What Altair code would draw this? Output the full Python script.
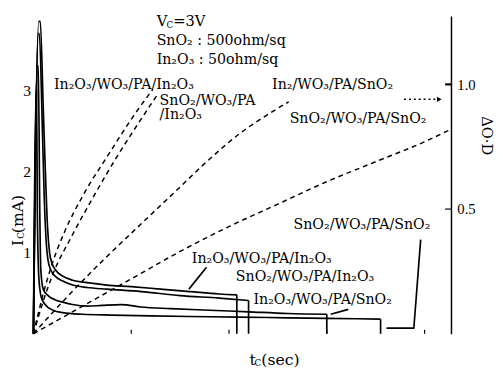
import altair as alt
import pandas as pd

FONT = "Liberation Serif"
LFONT = "DejaVu Serif"

# ---- current curves I_C (mA) vs t_C (sec) ----
cur_names = ["In₂O₃/WO₃/PA/In₂O₃", "SnO₂/WO₃/PA/In₂O₃", "In₂O₃/WO₃/PA/SnO₂", "SnO₂/WO₃/PA/SnO₂"]
t_A = [0, 0.55, 0.7, 1.0, 1.25, 1.45, 1.65, 1.9, 2.3, 3, 4, 5.5, 7.5, 10, 13, 16, 19, 20.8]
I_A = [0, 3.85, 3.85, 2.8, 1.9, 1.3, 1.0, 0.87, 0.78, 0.71, 0.66, 0.63, 0.6, 0.58, 0.55, 0.52, 0.49, 0.48]
t_B = [0, 0.5, 0.6, 0.9, 1.1, 1.3, 1.5, 1.8, 2.3, 3, 4, 5.5, 7.5, 11, 15, 19, 22]
I_B = [0, 3.7, 3.7, 2.6, 1.7, 1.15, 0.9, 0.78, 0.7, 0.65, 0.6, 0.57, 0.55, 0.52, 0.47, 0.44, 0.41]
t_C = [0, 0.4, 0.5, 0.65, 0.75, 1.0, 1.5, 2.2, 3, 4, 5.5, 7, 9, 11, 14, 18, 22, 26, 30]
I_C = [0, 3.3, 3.3, 1.5, 0.8, 0.55, 0.47, 0.42, 0.39, 0.36, 0.34, 0.35, 0.36, 0.33, 0.31, 0.29, 0.27, 0.25, 0.24]
t_D = [0, 0.25, 0.32, 0.4, 0.55, 0.8, 1.2, 2, 3, 5, 8, 12, 18, 24, 30, 35.5]
I_D = [0, 3.0, 3.0, 1.5, 0.7, 0.45, 0.36, 0.29, 0.26, 0.24, 0.23, 0.22, 0.21, 0.2, 0.19, 0.18]

# ---- optical density change (dashed) ----
od_names = ["In₂O₃/WO₃/PA/In₂O₃", "SnO₂/WO₃/PA/In₂O₃", "In₂O₃/WO₃/PA/SnO₂", "SnO₂/WO₃/PA/SnO₂"]
t_D1 = [0, 1, 2, 3.2, 5, 7.7, 10, 12.2]
od_D1 = [0, 0.16, 0.29, 0.41, 0.55, 0.72, 0.86, 0.98]
t_D2 = [0, 1, 2, 3.9, 6, 8.7, 11, 12.7]
od_D2 = [0, 0.13, 0.24, 0.39, 0.54, 0.72, 0.86, 0.96]
t_D3 = [0, 3.5, 7, 11, 14.5, 18, 21, 24, 26.1]
od_D3 = [0, 0.15, 0.29, 0.44, 0.57, 0.70, 0.80, 0.88, 0.93]
t_D4 = [0, 5, 10, 15, 20, 25, 30, 35, 40, 42.7]
od_D4 = [0, 0.11, 0.22, 0.33, 0.43, 0.52, 0.61, 0.69, 0.77, 0.82]

# ---- annotations ----
label_text = ["SnO₂ : 500ohm/sq", "In₂O₃ : 50ohm/sq", "In₂O₃/WO₃/PA/In₂O₃", "SnO₂/WO₃/PA", "/In₂O₃",
              "In₂/WO₃/PA/SnO₂", "SnO₂/WO₃/PA/SnO₂", "SnO₂/WO₃/PA/SnO₂", "In₂O₃/WO₃/PA/In₂O₃",
              "SnO₂/WO₃/PA/In₂O₃", "In₂O₃/WO₃/PA/SnO₂"]
label_t = [12.6, 12.6, 2.1, 12.9, 12.9, 24.4, 26.2, 26.6, 16.2, 20.7, 22.5]
label_I = [3.61, 3.37, 3.07, 2.87, 2.69, 3.06, 2.65, 1.34, 0.92, 0.70, 0.42]

sub_text = ["V", "C", "=3V", "t", "C", "(sec)"]
sub_t = [12.6, 13.6, 14.3, 22.1, 22.6, 23.3]
sub_I = [3.85, 3.80, 3.85, -0.325, -0.36, -0.325]
sub_fs = [15, 9, 15, 16, 9, 16]

ytitle_text = ["I", "C", "(mA)"]
ytitle_t = [-1.6, -1.25, -1.6]
ytitle_I = [1.08, 1.17, 1.24]
ytitle_fs = [16, 9, 16]

leader_id = ["a", "a", "b", "b", "c", "c", "c"]
leader_t = [17.7, 15.9, 32.2, 30.4, 39.6, 38.9, 36.1]
leader_I = [0.82, 0.55, 0.30, 0.24, 1.16, 0.07, 0.07]

arrow_t = [37.9, 41.5]
arrow_od = [0.94, 0.94]

xticks = [10, 20, 30, 40]
od_ticks = [1.0, 0.5]

XDOM = [0, 42.7]
IDOM = [0, 3.916]
ODDOM = [0, 1.2745]

def X(field="t", axis=None):
    return alt.X(f"{field}:Q", scale=alt.Scale(domain=XDOM, nice=False, zero=False), axis=axis)

def YI(field="I", axis=None):
    return alt.Y(f"{field}:Q", scale=alt.Scale(domain=IDOM, nice=False), axis=axis)

def YOD(field="od", axis=None):
    return alt.Y(f"{field}:Q", scale=alt.Scale(domain=ODDOM, nice=False), axis=axis)

rows = []
for name, ts, vs in zip(cur_names, [t_A, t_B, t_C, t_D], [I_A, I_B, I_C, I_D]):
    for i, (t, v) in enumerate(zip(ts, vs)):
        rows.append({"s": name, "idx": i, "t": t, "I": v})
cur_df = pd.DataFrame(rows)
end_df = pd.DataFrame({"t": [ts[-1] for ts in [t_A, t_B, t_C, t_D]],
                       "I": [vs[-1] for vs in [I_A, I_B, I_C, I_D]],
                       "z": [0, 0, 0, 0]})

rows = []
for name, ts, vs in zip(od_names, [t_D1, t_D2, t_D3, t_D4], [od_D1, od_D2, od_D3, od_D4]):
    for i, (t, v) in enumerate(zip(ts, vs)):
        rows.append({"s": name, "idx": i, "t": t, "od": v})
od_df = pd.DataFrame(rows)

x_axis = alt.Axis(values=[0, 10, 20, 30, 40], tickSize=0, labelPadding=5, labelFontSize=16,
                  labelFont=FONT, labelColor="black", domainColor="black", domainWidth=1.5,
                  grid=False, title=None,
                  labelAlign={"condition": {"test": "datum.value == 0", "value": "right"}, "value": "center"})
yl_axis = alt.Axis(orient="left", values=[1, 2, 3], domain=False, ticks=False, labelPadding=3,
                   labelFontSize=16, labelFont=FONT, labelColor="black", grid=False, title=None)
yr_axis = alt.Axis(orient="right", values=[0.5, 1.0], format=".1f", domain=True, domainColor="black",
                   domainWidth=1.5, tickSize=0, labelPadding=6, labelFontSize=15, labelFont=FONT,
                   labelColor="black", grid=False, title="ΔO·D", titleAngle=90, titleX=36, titleY=122,
                   titleFont=LFONT, titleFontSize=15, titleFontWeight="normal", titleColor="black",
                   titleAlign="center", titleBaseline="middle")

cur = alt.Chart(cur_df).mark_line(color="black", strokeWidth=1.7, interpolate="monotone").encode(
    x=X(axis=x_axis), y=YI(axis=yl_axis), detail="s:N", order="idx:Q")
ends = alt.Chart(end_df).mark_rule(color="black", strokeWidth=1.7).encode(
    x=X(), y=YI(), y2="z:Q")
od = alt.Chart(od_df).mark_line(color="black", strokeWidth=1.5, strokeDash=[5, 4], interpolate="monotone").encode(
    x=X(), y=YOD(axis=yr_axis), detail="s:N", order="idx:Q")

lab_df = pd.DataFrame({"t": label_t, "I": label_I, "txt": label_text})
labels = alt.Chart(lab_df).mark_text(align="left", baseline="middle", font=LFONT, fontSize=14.5, color="black").encode(
    x=X(), y=YI(), text="txt:N")
sub_df = pd.DataFrame({"t": sub_t, "I": sub_I, "txt": sub_text, "fs": sub_fs})
subs = alt.Chart(sub_df).mark_text(align="left", baseline="middle", font=LFONT, color="black").encode(
    x=X(), y=YI(), text="txt:N", size=alt.Size("fs:Q", scale=None, legend=None))
yt_df = pd.DataFrame({"t": ytitle_t, "I": ytitle_I, "txt": ytitle_text, "fs": ytitle_fs})
ytitle = alt.Chart(yt_df).mark_text(align="left", baseline="middle", font=LFONT, color="black", angle=270).encode(
    x=X(), y=YI(), text="txt:N", size=alt.Size("fs:Q", scale=None, legend=None))

ld_df = pd.DataFrame({"g": leader_id, "idx": list(range(len(leader_id))), "t": leader_t, "I": leader_I})
leaders = alt.Chart(ld_df).mark_line(color="black", strokeWidth=1.7).encode(
    x=X(), y=YI(), detail="g:N", order="idx:Q")

ar_df = pd.DataFrame({"t": [arrow_t[0]], "t2": [arrow_t[1]], "od": [arrow_od[0]]})
arrow = alt.Chart(ar_df).mark_rule(color="black", strokeWidth=1.5, strokeDash=[2, 3]).encode(
    x=X(), x2="t2:Q", y=YOD())
head_df = pd.DataFrame({"t": [arrow_t[1]], "od": [arrow_od[1]]})
head = alt.Chart(head_df).mark_point(shape="triangle-right", filled=True, color="black", size=30, opacity=1).encode(
    x=X(), y=YOD())

xt_df = pd.DataFrame({"t": xticks})
xt = alt.Chart(xt_df).mark_rule(color="black", strokeWidth=1.2).encode(
    x=X(), y=alt.value(325), y2=alt.value(321))
odt_df = pd.DataFrame({"od": od_ticks, "w": [2.2, 1.2]})
odt = alt.Chart(odt_df).mark_rule(color="black").encode(
    y=YOD(), x=alt.value(427), x2=alt.value(421), strokeWidth=alt.StrokeWidth("w:Q", scale=None, legend=None))

chart = alt.layer(cur, od, ends, labels, subs, ytitle, leaders, arrow, head, xt, odt).resolve_scale(
    y="independent").properties(
    width=427, height=325,
    autosize=alt.AutoSizeParams(type="none"),
    padding={"left": 26, "top": 4, "right": 45, "bottom": 36},
    background="white",
).configure_view(stroke=None)

chart.save("out.html", embed_options={"renderer": "svg", "actions": False})
